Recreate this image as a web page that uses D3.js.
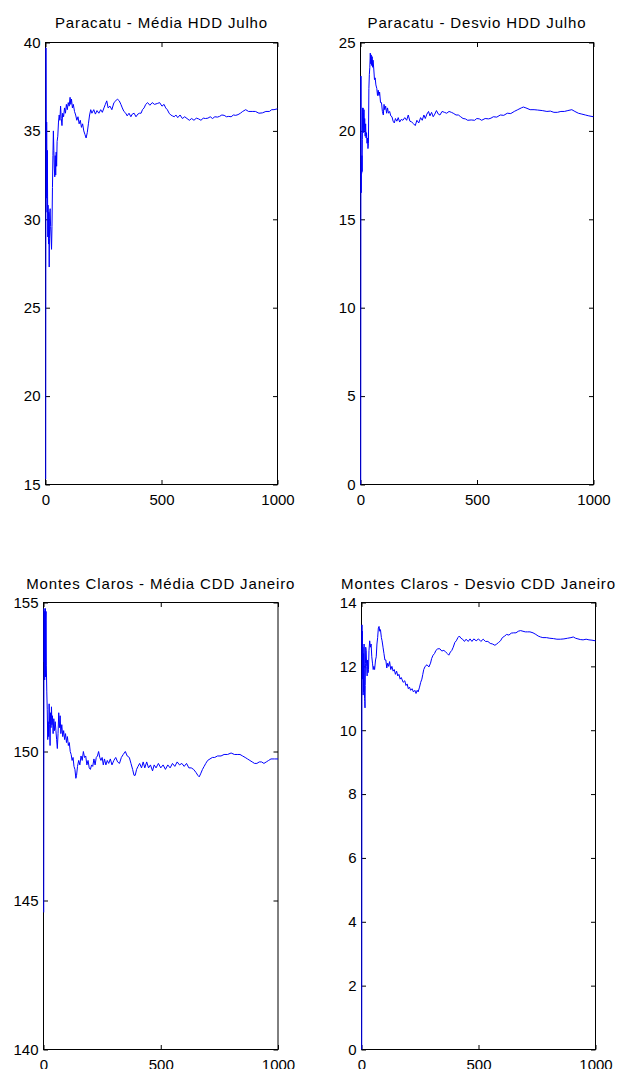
<!DOCTYPE html>
<html>
<head>
<meta charset="utf-8">
<script src="https://cdn.jsdelivr.net/npm/d3@7"></script>
<style>
  html, body { margin: 0; padding: 0; background: #fff; }
  svg { display: block; }
</style>
</head>
<body>
<svg id="chart" width="618" height="1069"></svg>
<script>
// running mean / std dev vs number of simulations
const paracatuMediaN = [1,2,3,4,5,6,7,8,9,10,11,12,13,14,15,16,17,18,20,22,24,26,28,30,32,34,36,38,40,42,44,46,48,50,53,56,59,62,65,68,71,74,78,82,86,90,94,98,102,106,109,112,116,120,125,130,135,140,145,150,155,160,165,170,175,180,185,190,195,200,208,215,222,230,238,245,252,258,264,270,278,286,295,303,310,318,325,331,338,346,352,360,368,374,382,390,398,405,412,418,425,432,440,450,460,470,482,492,502,511,518,525,533,540,547,555,562,570,580,590,600,610,620,630,640,650,660,670,680,690,700,710,720,730,741,750,760,770,780,790,800,810,820,830,840,850,863,875,891,905,920,935,950,965,975,985,1000];
const paracatuMediaY = [15.3,39.7,35.4,31.2,35.5,32.8,30.4,33.9,31.3,29.0,30.8,29.5,28.6,30.4,29.1,27.3,28.9,30.3,30.6,29.6,29.0,28.3,29.6,31.8,33.6,35.0,33.9,32.9,32.4,33.6,32.5,33.8,33.0,34.4,34.7,35.5,35.9,35.6,36.4,35.7,35.3,36.0,35.8,36.3,36.0,36.5,36.2,36.6,36.4,36.9,36.5,36.8,36.3,36.5,36.1,35.9,35.6,35.8,35.4,35.6,35.2,35.4,35.0,34.8,34.6,34.9,35.4,35.9,36.2,36.0,36.2,35.95,36.15,36.0,36.2,36.05,36.3,36.5,36.7,36.3,36.4,36.2,36.6,36.7,36.8,36.7,36.5,36.3,36.1,36.0,35.85,36.0,35.8,35.95,36.0,35.8,35.95,36.0,36.0,36.2,36.3,36.5,36.6,36.45,36.6,36.5,36.55,36.6,36.4,36.5,36.3,36.2,36.0,35.9,35.85,35.8,35.9,35.75,35.9,35.7,35.8,35.7,35.6,35.7,35.6,35.72,35.68,35.6,35.72,35.7,35.72,35.8,35.7,35.8,35.78,35.82,35.9,35.88,35.8,35.82,35.8,35.9,35.88,35.92,36.0,36.1,36.2,36.1,36.1,36.1,36.0,36.02,36.1,36.1,36.2,36.2,36.25];

const paracatuDesvioN = [1,2,3,4,5,6,7,8,9,10,11,12,13,14,15,16,18,20,22,24,26,28,30,32,34,36,38,40,42,44,46,48,50,52,54,57,60,63,66,70,73,76,79,82,86,90,94,98,101,104,108,112,116,120,125,130,135,140,145,150,156,162,168,175,182,190,198,205,212,220,228,235,242,250,258,265,272,278,285,292,298,305,312,319,326,334,341,350,360,370,380,390,398,410,420,430,440,450,460,475,490,499,510,520,535,550,560,570,585,600,615,630,645,660,675,690,699,710,728,745,760,780,800,815,830,845,860,875,890,907,920,935,950,965,980,1000];
const paracatuDesvioY = [0,23.1,16.5,18.2,17.6,18.6,17.7,19.5,21.3,20.2,21.3,19.9,21.0,20.4,21.2,20.0,20.7,19.7,20.4,19.6,19.9,19.3,19.6,19.0,19.3,22.4,23.2,23.6,24.4,23.8,24.3,23.7,24.2,23.6,24.0,23.5,22.9,23.0,22.6,22.4,22.0,22.3,22.0,22.2,21.6,21.6,21.1,20.9,21.5,21.2,21.4,21.0,21.3,21.0,21.1,20.85,20.8,20.55,20.45,20.7,20.55,20.75,20.5,20.65,20.6,20.75,20.6,20.9,20.55,20.5,20.4,20.3,20.6,20.45,20.75,20.6,20.9,20.7,20.95,21.1,20.85,21.05,20.8,20.95,21.15,20.95,20.9,21.1,21.05,21.0,21.1,21.05,21.0,20.9,20.9,20.8,20.7,20.68,20.6,20.62,20.6,20.7,20.68,20.6,20.7,20.68,20.72,20.8,20.78,20.9,20.88,21.0,20.98,21.1,21.2,21.3,21.35,21.3,21.2,21.2,21.18,21.15,21.1,21.12,21.05,21.05,21.1,21.1,21.15,21.2,21.1,21.0,20.95,20.9,20.85,20.8];

const montesMediaN = [1,2,3,4,5,6,7,8,9,10,11,12,14,16,18,20,22,24,26,28,30,32,34,36,38,41,44,47,50,53,56,59,62,65,68,71,74,78,82,86,90,94,98,102,106,110,114,118,122,126,130,134,138,141,145,150,155,160,165,170,175,180,185,190,195,200,205,210,215,220,225,230,235,240,245,250,255,260,266,272,278,285,292,300,308,316,324,332,340,349,357,366,373,380,386,391,397,403,410,418,425,432,440,448,456,465,472,480,490,500,510,520,530,540,550,560,570,580,590,600,610,620,630,640,650,658,664,670,678,685,692,700,710,720,730,742,757,770,785,800,814,826,838,849,860,870,880,890,900,910,920,930,940,950,960,970,985,1000];
const montesMediaY = [144.6,154.8,153.0,154.7,152.4,154.6,153.2,154.8,152.5,154.4,154.7,152.9,152.0,151.4,150.4,151.0,150.5,151.6,150.9,150.2,151.3,150.8,151.5,150.9,151.2,150.6,151.1,150.7,151.0,150.7,150.4,150.1,150.6,151.3,150.8,151.2,150.6,150.9,150.5,150.7,150.4,150.6,150.3,150.5,150.2,150.3,150.0,149.9,149.7,149.8,149.5,149.4,149.1,149.2,149.5,149.7,149.55,149.85,149.7,150.0,149.8,149.85,149.55,149.7,149.45,149.4,149.55,149.5,149.75,149.55,149.8,149.85,150.0,149.8,149.7,149.8,149.55,149.75,149.55,149.7,149.6,149.75,149.55,149.7,149.8,149.65,149.6,149.8,149.9,150.0,149.85,149.8,149.6,149.4,149.2,149.2,149.4,149.5,149.6,149.45,149.65,149.45,149.65,149.45,149.55,149.35,149.55,149.45,149.6,149.45,149.55,149.4,149.55,149.45,149.6,149.5,149.65,149.55,149.6,149.5,149.6,149.45,149.45,149.4,149.3,149.2,149.15,149.25,149.4,149.5,149.6,149.7,149.75,149.8,149.8,149.85,149.85,149.9,149.9,149.95,149.9,149.9,149.9,149.85,149.8,149.75,149.7,149.65,149.6,149.6,149.65,149.65,149.6,149.65,149.7,149.75,149.75,149.75];

const montesDesvioN = [1,2,3,4,5,6,7,8,9,10,11,12,13,14,15,16,17,18,20,22,24,26,28,30,32,35,38,41,44,47,50,53,56,60,63,66,69,72,75,78,81,85,88,92,96,100,104,108,112,116,120,125,130,135,140,145,150,155,160,165,170,178,185,190,195,200,205,210,216,222,228,233,238,242,248,253,258,262,266,272,280,288,295,300,306,312,318,326,335,343,352,360,367,373,380,386,392,399,405,412,418,425,432,440,447,456,464,472,480,490,500,510,520,530,540,550,560,570,578,586,594,602,612,620,630,640,650,660,670,680,690,700,710,720,733,745,755,765,775,790,805,820,835,850,865,880,895,905,915,925,935,947,960,972,985,1000];
const montesDesvioY = [0,13.3,12.2,13.1,11.6,12.6,11.1,11.9,12.4,11.2,12.7,11.7,11.0,10.9,10.7,11.4,12.1,12.6,12.5,12.0,11.7,12.2,11.8,11.9,12.5,12.8,12.6,12.7,12.3,12.1,11.9,12.0,11.9,12.2,12.3,12.7,12.9,13.2,13.25,13.1,13.15,12.9,12.8,12.6,12.4,12.2,12.2,11.95,12.1,12.0,12.15,11.9,12.0,11.85,11.9,11.75,11.85,11.7,11.75,11.6,11.65,11.5,11.55,11.4,11.45,11.3,11.35,11.25,11.3,11.2,11.25,11.15,11.25,11.2,11.35,11.5,11.6,11.75,11.9,12.0,12.05,11.98,12.1,12.25,12.35,12.4,12.5,12.55,12.55,12.48,12.5,12.45,12.4,12.35,12.45,12.5,12.6,12.75,12.8,12.9,12.95,12.88,12.85,12.78,12.85,12.78,12.86,12.78,12.86,12.8,12.86,12.78,12.85,12.78,12.78,12.72,12.7,12.66,12.7,12.75,12.8,12.9,12.95,13.0,12.98,13.04,13.05,13.05,13.1,13.12,13.1,13.08,13.08,13.08,13.05,13.0,12.95,12.92,12.9,12.9,12.88,12.87,12.85,12.85,12.86,12.88,12.9,12.92,12.88,12.86,12.84,12.83,12.85,12.83,12.82,12.8];

const titles = [
  'Paracatu - Média HDD Julho',
  'Paracatu - Desvio HDD Julho',
  'Montes Claros - Média CDD Janeiro',
  'Montes Claros - Desvio CDD Janeiro'
];
const xTicks = [0, 500, 1000];
const paracatuMediaTicks = [15, 20, 25, 30, 35, 40];
const paracatuDesvioTicks = [0, 5, 10, 15, 20, 25];
const montesMediaTicks = [140, 145, 150, 155];
const montesDesvioTicks = [0, 2, 4, 6, 8, 10, 12, 14];

const FONT = '"Liberation Sans", Arial, Helvetica, sans-serif';
const TICK = 4.5;

const svg = d3.select('#chart');

const panels = [
  { title: titles[0], n: paracatuMediaN, v: paracatuMediaY, ticks: paracatuMediaTicks,
    left: 45.5, right: 277.5, top: 42.5, bottom: 484.5, titleY: 28 },
  { title: titles[1], n: paracatuDesvioN, v: paracatuDesvioY, ticks: paracatuDesvioTicks,
    left: 360.5, right: 593.5, top: 42.5, bottom: 484.5, titleY: 28 },
  { title: titles[2], n: montesMediaN, v: montesMediaY, ticks: montesMediaTicks,
    left: 43.5, right: 278, top: 602.5, bottom: 1049.5, titleY: 588.5 },
  { title: titles[3], n: montesDesvioN, v: montesDesvioY, ticks: montesDesvioTicks,
    left: 361.5, right: 595.5, top: 602.5, bottom: 1049.5, titleY: 588.5 }
];

function styleAxis(sel) {
  sel.attr('font-size', 15).attr('font-family', FONT);
  sel.select('.domain').remove();
  sel.selectAll('.tick line').attr('stroke', '#000');
  sel.selectAll('.tick text').attr('fill', '#000');
}

function drawPanel(p) {
  const g = svg.append('g');
  const ticks = p.ticks;
  const x = d3.scaleLinear().domain([0, 1000]).range([p.left, p.right]);
  const y = d3.scaleLinear().domain([ticks[0], ticks[ticks.length - 1]]).range([p.bottom, p.top]);

  // frame
  g.append('rect')
    .attr('x', p.left).attr('y', p.top)
    .attr('width', p.right - p.left).attr('height', p.bottom - p.top)
    .attr('fill', 'none').attr('stroke', '#000').attr('stroke-width', 1);

  // inward ticks on all four sides (MATLAB box style)
  g.append('g').attr('transform', `translate(0,${p.bottom})`)
    .call(d3.axisBottom(x).tickValues(xTicks).tickSize(-TICK).tickPadding(9.5).tickFormat(d3.format('d')))
    .call(styleAxis);
  g.append('g').attr('transform', `translate(0,${p.top})`)
    .call(d3.axisTop(x).tickValues(xTicks).tickSize(-TICK).tickFormat(''))
    .call(styleAxis);
  g.append('g').attr('transform', `translate(${p.left},0)`)
    .call(d3.axisLeft(y).tickValues(ticks).tickSize(-TICK).tickPadding(5).tickFormat(d3.format('d')))
    .call(styleAxis);
  g.append('g').attr('transform', `translate(${p.right},0)`)
    .call(d3.axisRight(y).tickValues(ticks).tickSize(-TICK).tickFormat(''))
    .call(styleAxis);

  const pts = p.n.map((n, i) => [n, p.v[i]]);
  const line = d3.line().x(d => x(d[0])).y(d => y(d[1]));
  g.append('path')
    .datum(pts)
    .attr('fill', 'none')
    .attr('stroke', '#0000ff')
    .attr('stroke-width', 1)
    .attr('stroke-linejoin', 'round')
    .attr('d', line);

  g.append('text')
    .attr('x', (p.left + p.right) / 2)
    .attr('y', p.titleY)
    .attr('text-anchor', 'middle')
    .attr('font-family', FONT)
    .attr('font-size', 15)
    .attr('letter-spacing', '0.85px')
    .attr('fill', '#000')
    .text(p.title);
}

panels.forEach(drawPanel);
</script>
</body>
</html>
